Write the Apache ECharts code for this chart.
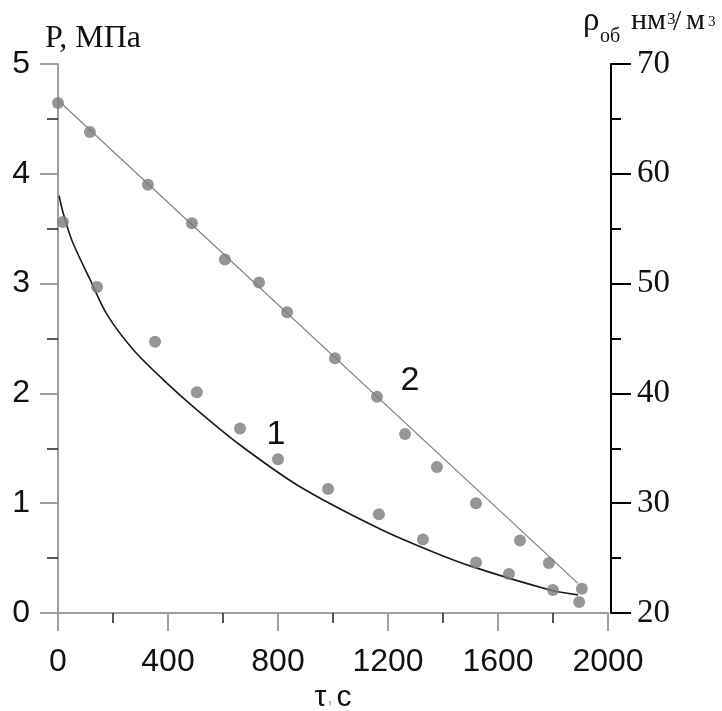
<!DOCTYPE html>
<html>
<head>
<meta charset="utf-8">
<script src="https://cdn.jsdelivr.net/npm/echarts@6/dist/echarts.min.js"></script>
<style>html,body{margin:0;padding:0;background:#fff;}#c{width:722px;height:711px;}</style>
</head>
<body>
<div id="c"></div>
<script>
// ---- data ----
// curve 1: pressure P, MPa (left axis)
const curve1T = [4, 18, 51, 116, 178, 273, 389, 505, 662, 880, 1171, 1364, 1509, 1789, 1891];
const curve1P = [3.80, 3.65, 3.39, 3.04, 2.72, 2.40, 2.11, 1.85, 1.53, 1.15, 0.765, 0.556, 0.42, 0.21, 0.165];
const points1T = [18, 142, 353, 505, 662, 800, 982, 1167, 1327, 1520, 1640, 1800, 1895];
const points1P = [3.56, 2.97, 2.47, 2.01, 1.68, 1.40, 1.13, 0.90, 0.67, 0.46, 0.355, 0.21, 0.10];
// curve 2: density rho (right axis)
const curve2T = [0, 1891];
const curve2Rho = [66.7, 22.7];
const points2T = [0, 116, 327, 487, 607, 731, 833, 1007, 1160, 1262, 1378, 1520, 1680, 1785, 1905];
const points2Rho = [66.45, 63.8, 59.0, 55.5, 52.2, 50.1, 47.4, 43.2, 39.7, 36.3, 33.3, 30.0, 26.6, 24.55, 22.2];
// curve labels (data coordinates)
const label1 = {text: '1', t: 793, v: 1.62};
const label2 = {text: '2', t: 1280, v: 41.2};
// axes
const xMin = 0, xMax = 2000, xStep = 400;
const pMin = 0, pMax = 5, pStep = 1;
const rhoMin = 20, rhoMax = 70, rhoStep = 10;

const zip = (a, b) => a.map((x, i) => [x, b[i]]);

const chart = echarts.init(document.getElementById('c'), null, {renderer: 'canvas'});
const dark = '#111';
const grayAxis = '#a0a0a0';
const dotColor = '#7c7c7c';

chart.setOption({
  animation: false,
  backgroundColor: '#ffffff',
  grid: {left: 58, right: 114, top: 64, bottom: 98, containLabel: false, outerBoundsMode: 'none'},
  xAxis: {
    type: 'value', min: xMin, max: xMax, interval: xStep,
    name: '{a|τ}{b|,}{a|с}', nameLocation: 'middle', nameGap: 68,
    nameTextStyle: {rich: {
      a: {fontSize: 30, fontFamily: 'Liberation Sans', color: dark},
      b: {fontSize: 18, fontFamily: 'Liberation Sans', color: '#aaa', padding: [0, 4, 0, 1]}
    }},
    axisLine: {show: true, lineStyle: {color: grayAxis, width: 2}},
    axisTick: {show: true, length: 18, lineStyle: {color: grayAxis, width: 2}},
    minorTick: {show: true, splitNumber: 2, length: 10, lineStyle: {color: '#222', width: 1.5}},
    splitLine: {show: false}, minorSplitLine: {show: false},
    axisLabel: {fontSize: 32, fontFamily: 'Liberation Sans', color: dark, margin: 33, formatter: v => String(v)}
  },
  yAxis: [{
    type: 'value', position: 'left', min: pMin, max: pMax, interval: pStep,
    axisLine: {show: true, lineStyle: {color: grayAxis, width: 2}},
    axisTick: {show: true, length: 18, lineStyle: {color: grayAxis, width: 2}},
    minorTick: {show: true, splitNumber: 2, length: 11, lineStyle: {color: '#222', width: 1.5}},
    splitLine: {show: false}, minorSplitLine: {show: false},
    axisLabel: {fontSize: 32, fontFamily: 'Liberation Sans', color: dark, margin: 28}
  }, {
    type: 'value', position: 'right', offset: 3, min: rhoMin, max: rhoMax, interval: rhoStep,
    axisLine: {show: true, lineStyle: {color: '#000', width: 2}},
    axisTick: {show: true, length: 20, lineStyle: {color: '#000', width: 2}},
    minorTick: {show: true, splitNumber: 2, length: 10, lineStyle: {color: '#000', width: 2}},
    splitLine: {show: false}, minorSplitLine: {show: false},
    axisLabel: {fontSize: 33, fontFamily: 'Liberation Serif', color: dark, margin: 26}
  }],
  graphic: [
    {type: 'text', style: {x: 45, y: 39, text: 'P, МПа', font: '32px "Liberation Serif"', fill: dark, verticalAlign: 'middle'}},
    {type: 'text', style: {x: 583, y: 21, text: 'ρ', font: '33px "Liberation Serif"', fill: dark, verticalAlign: 'middle'}},
    {type: 'text', style: {x: 600, y: 37, text: 'об', font: '20px "Liberation Serif"', fill: dark, verticalAlign: 'middle'}},
    {type: 'text', style: {x: 631, y: 21, text: 'нм', font: '30px "Liberation Serif"', fill: dark, verticalAlign: 'middle'}},
    {type: 'text', style: {x: 667, y: 20, text: '3', font: '17px "Liberation Serif"', fill: dark, verticalAlign: 'middle'}},
    {type: 'text', style: {x: 673, y: 22, text: '/', font: '30px "Liberation Serif"', fill: dark, verticalAlign: 'middle'}},
    {type: 'text', style: {x: 686, y: 21, text: 'м', font: '30px "Liberation Serif"', fill: dark, verticalAlign: 'middle'}},
    {type: 'text', style: {x: 708, y: 22, text: '3', font: '15px "Liberation Serif"', fill: dark, verticalAlign: 'middle'}}
  ],
  series: [
    {
      type: 'line', yAxisIndex: 0, data: zip(curve1T, curve1P), smooth: 0.3, showSymbol: false,
      lineStyle: {color: '#1a1a1a', width: 1.6}, z: 3,
      markPoint: {
        symbol: 'circle', symbolSize: 1, itemStyle: {color: 'rgba(0,0,0,0)'},
        label: {show: true, position: 'inside', fontSize: 34, fontFamily: 'Liberation Sans', color: dark},
        data: [{coord: [label1.t, label1.v], value: label1.text}]
      }
    },
    {
      type: 'scatter', yAxisIndex: 0, data: zip(points1T, points1P), symbol: 'circle', symbolSize: 12,
      itemStyle: {color: dotColor}, z: 4
    },
    {
      type: 'line', yAxisIndex: 1, data: zip(curve2T, curve2Rho), showSymbol: false,
      lineStyle: {color: '#808080', width: 1.2}, z: 3,
      markPoint: {
        symbol: 'circle', symbolSize: 1, itemStyle: {color: 'rgba(0,0,0,0)'},
        label: {show: true, position: 'inside', fontSize: 34, fontFamily: 'Liberation Sans', color: dark},
        data: [{coord: [label2.t, label2.v], value: label2.text}]
      }
    },
    {
      type: 'scatter', yAxisIndex: 1, data: zip(points2T, points2Rho), symbol: 'circle', symbolSize: 12,
      itemStyle: {color: dotColor}, z: 4
    }
  ]
});
</script>
</body>
</html>
